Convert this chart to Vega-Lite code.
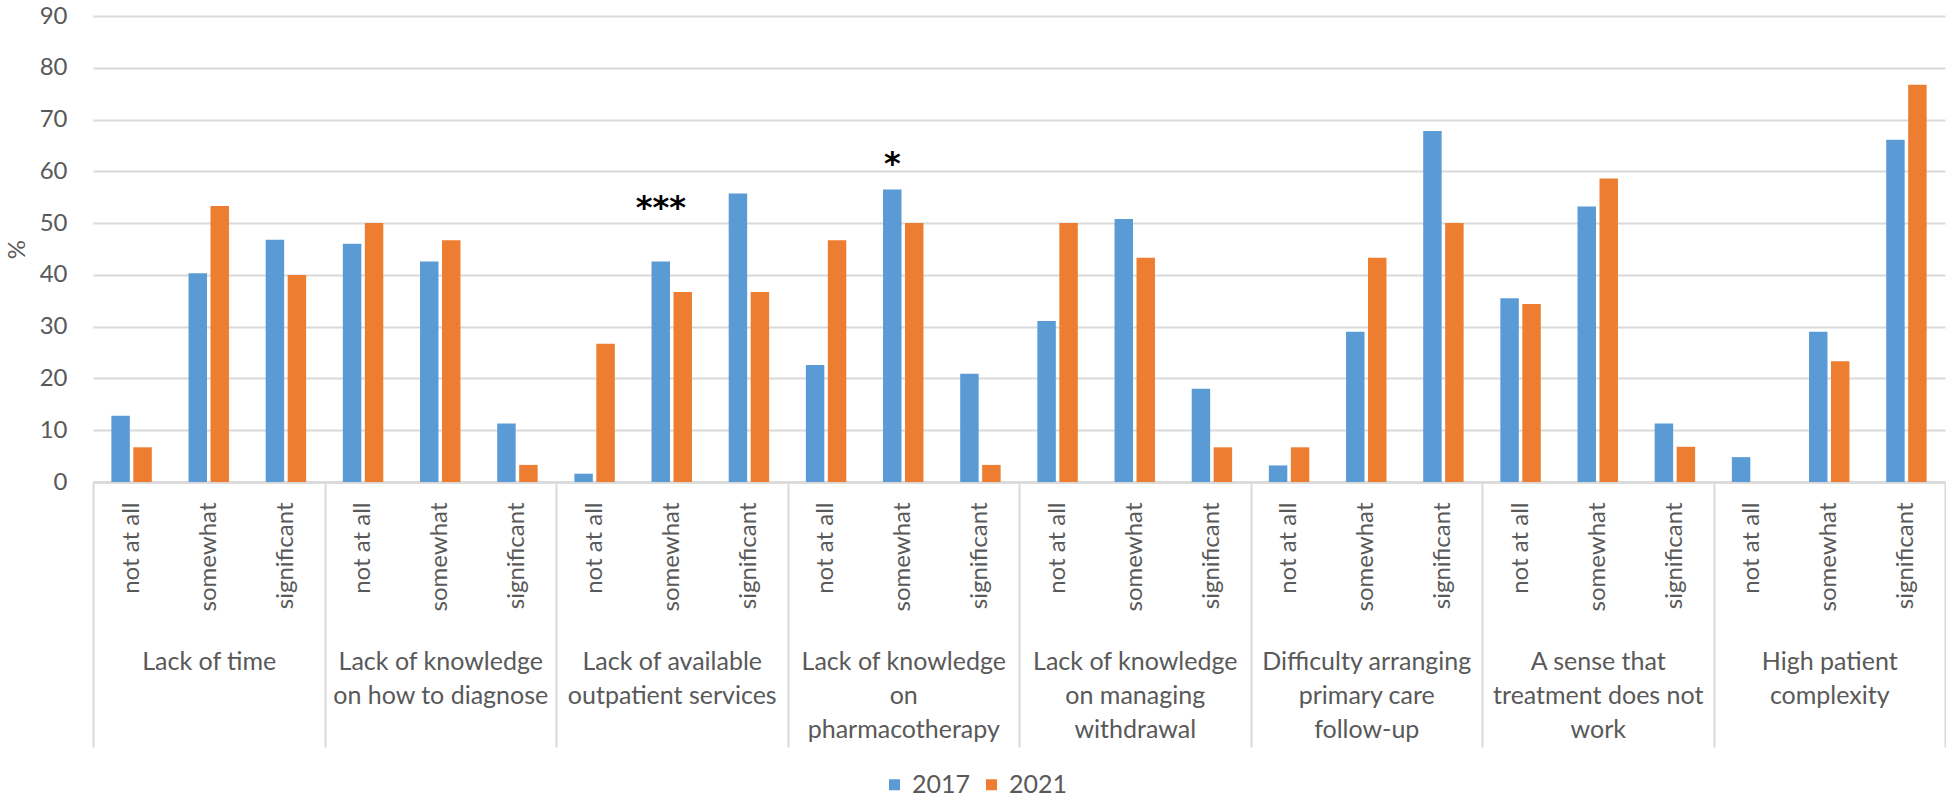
{
  "$schema": "https://vega.github.io/schema/vega-lite/v6.json",
  "width": 1852,
  "height": 466,
  "autosize": {"type": "none"},
  "padding": {"left": 93, "top": 16, "right": 1, "bottom": 316},
  "background": "white",
  "config": {"view": {"stroke": null}, "font": "Lato"},
  "datasets": {
    "bars": [
      {"barrier": "Lack of time", "level": "not at all", "cell": "Lack of time / not at all", "year": "2017", "pct": 12.8},
      {"barrier": "Lack of time", "level": "not at all", "cell": "Lack of time / not at all", "year": "2021", "pct": 6.7},
      {"barrier": "Lack of time", "level": "somewhat", "cell": "Lack of time / somewhat", "year": "2017", "pct": 40.3},
      {"barrier": "Lack of time", "level": "somewhat", "cell": "Lack of time / somewhat", "year": "2021", "pct": 53.3},
      {"barrier": "Lack of time", "level": "significant", "cell": "Lack of time / significant", "year": "2017", "pct": 46.8},
      {"barrier": "Lack of time", "level": "significant", "cell": "Lack of time / significant", "year": "2021", "pct": 40.0},
      {"barrier": "Lack of knowledge on how to diagnose", "level": "not at all", "cell": "Lack of knowledge on how to diagnose / not at all", "year": "2017", "pct": 46.0},
      {"barrier": "Lack of knowledge on how to diagnose", "level": "not at all", "cell": "Lack of knowledge on how to diagnose / not at all", "year": "2021", "pct": 50.0},
      {"barrier": "Lack of knowledge on how to diagnose", "level": "somewhat", "cell": "Lack of knowledge on how to diagnose / somewhat", "year": "2017", "pct": 42.6},
      {"barrier": "Lack of knowledge on how to diagnose", "level": "somewhat", "cell": "Lack of knowledge on how to diagnose / somewhat", "year": "2021", "pct": 46.7},
      {"barrier": "Lack of knowledge on how to diagnose", "level": "significant", "cell": "Lack of knowledge on how to diagnose / significant", "year": "2017", "pct": 11.3},
      {"barrier": "Lack of knowledge on how to diagnose", "level": "significant", "cell": "Lack of knowledge on how to diagnose / significant", "year": "2021", "pct": 3.3},
      {"barrier": "Lack of available outpatient services", "level": "not at all", "cell": "Lack of available outpatient services / not at all", "year": "2017", "pct": 1.6},
      {"barrier": "Lack of available outpatient services", "level": "not at all", "cell": "Lack of available outpatient services / not at all", "year": "2021", "pct": 26.7},
      {"barrier": "Lack of available outpatient services", "level": "somewhat", "cell": "Lack of available outpatient services / somewhat", "year": "2017", "pct": 42.6},
      {"barrier": "Lack of available outpatient services", "level": "somewhat", "cell": "Lack of available outpatient services / somewhat", "year": "2021", "pct": 36.7},
      {"barrier": "Lack of available outpatient services", "level": "significant", "cell": "Lack of available outpatient services / significant", "year": "2017", "pct": 55.7},
      {"barrier": "Lack of available outpatient services", "level": "significant", "cell": "Lack of available outpatient services / significant", "year": "2021", "pct": 36.7},
      {"barrier": "Lack of knowledge on pharmacotherapy", "level": "not at all", "cell": "Lack of knowledge on pharmacotherapy / not at all", "year": "2017", "pct": 22.6},
      {"barrier": "Lack of knowledge on pharmacotherapy", "level": "not at all", "cell": "Lack of knowledge on pharmacotherapy / not at all", "year": "2021", "pct": 46.7},
      {"barrier": "Lack of knowledge on pharmacotherapy", "level": "somewhat", "cell": "Lack of knowledge on pharmacotherapy / somewhat", "year": "2017", "pct": 56.5},
      {"barrier": "Lack of knowledge on pharmacotherapy", "level": "somewhat", "cell": "Lack of knowledge on pharmacotherapy / somewhat", "year": "2021", "pct": 50.0},
      {"barrier": "Lack of knowledge on pharmacotherapy", "level": "significant", "cell": "Lack of knowledge on pharmacotherapy / significant", "year": "2017", "pct": 20.9},
      {"barrier": "Lack of knowledge on pharmacotherapy", "level": "significant", "cell": "Lack of knowledge on pharmacotherapy / significant", "year": "2021", "pct": 3.3},
      {"barrier": "Lack of knowledge on managing withdrawal", "level": "not at all", "cell": "Lack of knowledge on managing withdrawal / not at all", "year": "2017", "pct": 31.1},
      {"barrier": "Lack of knowledge on managing withdrawal", "level": "not at all", "cell": "Lack of knowledge on managing withdrawal / not at all", "year": "2021", "pct": 50.0},
      {"barrier": "Lack of knowledge on managing withdrawal", "level": "somewhat", "cell": "Lack of knowledge on managing withdrawal / somewhat", "year": "2017", "pct": 50.8},
      {"barrier": "Lack of knowledge on managing withdrawal", "level": "somewhat", "cell": "Lack of knowledge on managing withdrawal / somewhat", "year": "2021", "pct": 43.3},
      {"barrier": "Lack of knowledge on managing withdrawal", "level": "significant", "cell": "Lack of knowledge on managing withdrawal / significant", "year": "2017", "pct": 18.0},
      {"barrier": "Lack of knowledge on managing withdrawal", "level": "significant", "cell": "Lack of knowledge on managing withdrawal / significant", "year": "2021", "pct": 6.7},
      {"barrier": "Difficulty arranging primary care follow-up", "level": "not at all", "cell": "Difficulty arranging primary care follow-up / not at all", "year": "2017", "pct": 3.2},
      {"barrier": "Difficulty arranging primary care follow-up", "level": "not at all", "cell": "Difficulty arranging primary care follow-up / not at all", "year": "2021", "pct": 6.7},
      {"barrier": "Difficulty arranging primary care follow-up", "level": "somewhat", "cell": "Difficulty arranging primary care follow-up / somewhat", "year": "2017", "pct": 29.0},
      {"barrier": "Difficulty arranging primary care follow-up", "level": "somewhat", "cell": "Difficulty arranging primary care follow-up / somewhat", "year": "2021", "pct": 43.3},
      {"barrier": "Difficulty arranging primary care follow-up", "level": "significant", "cell": "Difficulty arranging primary care follow-up / significant", "year": "2017", "pct": 67.8},
      {"barrier": "Difficulty arranging primary care follow-up", "level": "significant", "cell": "Difficulty arranging primary care follow-up / significant", "year": "2021", "pct": 50.0},
      {"barrier": "A sense that treatment does not work", "level": "not at all", "cell": "A sense that treatment does not work / not at all", "year": "2017", "pct": 35.5},
      {"barrier": "A sense that treatment does not work", "level": "not at all", "cell": "A sense that treatment does not work / not at all", "year": "2021", "pct": 34.4},
      {"barrier": "A sense that treatment does not work", "level": "somewhat", "cell": "A sense that treatment does not work / somewhat", "year": "2017", "pct": 53.2},
      {"barrier": "A sense that treatment does not work", "level": "somewhat", "cell": "A sense that treatment does not work / somewhat", "year": "2021", "pct": 58.6},
      {"barrier": "A sense that treatment does not work", "level": "significant", "cell": "A sense that treatment does not work / significant", "year": "2017", "pct": 11.3},
      {"barrier": "A sense that treatment does not work", "level": "significant", "cell": "A sense that treatment does not work / significant", "year": "2021", "pct": 6.8},
      {"barrier": "High patient complexity", "level": "not at all", "cell": "High patient complexity / not at all", "year": "2017", "pct": 4.8},
      {"barrier": "High patient complexity", "level": "not at all", "cell": "High patient complexity / not at all", "year": "2021", "pct": 0},
      {"barrier": "High patient complexity", "level": "somewhat", "cell": "High patient complexity / somewhat", "year": "2017", "pct": 29.0},
      {"barrier": "High patient complexity", "level": "somewhat", "cell": "High patient complexity / somewhat", "year": "2021", "pct": 23.3},
      {"barrier": "High patient complexity", "level": "significant", "cell": "High patient complexity / significant", "year": "2017", "pct": 66.1},
      {"barrier": "High patient complexity", "level": "significant", "cell": "High patient complexity / significant", "year": "2021", "pct": 76.7}
    ],
    "notes": [
      {"cell": "Lack of available outpatient services / somewhat", "year": "2017", "pos": 53.0, "sig": "***"},
      {"cell": "Lack of knowledge on pharmacotherapy / somewhat", "year": "2017", "pos": 61.4, "sig": "*"}
    ]
  },
  "layer": [
    {
      "layer": [
        {
          "data": {"name": "bars"},
          "mark": {"type": "bar"},
          "encoding": {
            "x": {
              "field": "cell", "type": "nominal", "sort": null,
              "scale": {"paddingInner": 0.476, "paddingOuter": 0.238},
              "axis": {
                "orient": "bottom", "title": null, "labelAngle": -90, "labelAlign": "right", "labelBaseline": "middle",
                "labelExpr": "split(datum.label, ' / ')[1]", "labelFontSize": 24, "labelColor": "#595959",
                "labelPadding": 20, "labelLimit": 0, "labelOverlap": false, "ticks": false,
                "domain": true, "domainColor": "#D9D9D9", "domainWidth": 2.5, "grid": false
              }
            },
            "xOffset": {"field": "year", "type": "nominal", "scale": {"paddingInner": 0.16}},
            "y": {
              "field": "pct", "type": "quantitative", "scale": {"domain": [0, 90]},
              "axis": {
                "values": [0, 10, 20, 30, 40, 50, 60, 70, 80, 90], "title": "%", "titleFontSize": 24,
                "titleFontWeight": "normal", "titleColor": "#595959", "titlePadding": 10,
                "labelFontSize": 24, "labelColor": "#595959", "labelPadding": 26,
                "domain": false, "ticks": false, "grid": true, "gridColor": "#D9D9D9", "gridWidth": 2
              }
            },
            "color": {
              "field": "year", "type": "nominal", "scale": {"range": ["#5B9BD5", "#ED7D31"]},
              "legend": {
                "title": null, "orient": "none", "legendX": 789, "legendY": 756, "direction": "horizontal",
                "symbolType": "square", "symbolSize": 121, "symbolStrokeWidth": 0, "labelFontSize": 25,
                "labelColor": "#595959", "labelOffset": 5, "columnPadding": 8, "padding": 0
              }
            }
          }
        },
        {
          "data": {"name": "notes"},
          "mark": {"type": "text", "font": "DejaVu Sans", "fontSize": 32, "fontWeight": "bold", "color": "black", "baseline": "middle"},
          "encoding": {
            "x": {"field": "cell", "type": "nominal", "sort": null},
            "xOffset": {"field": "year", "type": "nominal"},
            "y": {"field": "pos", "type": "quantitative"},
            "text": {"field": "sig"}
          }
        }
      ]
    },
    {
      "data": {"name": "bars"},
      "mark": {"type": "rule", "opacity": 0},
      "encoding": {
        "x": {
          "field": "barrier", "type": "nominal", "sort": null,
          "scale": {"paddingInner": 0, "paddingOuter": 0},
          "axis": {
            "orient": "bottom", "title": null, "domain": false, "ticks": true, "tickBand": "extent",
            "tickSize": 265, "tickColor": "#D9D9D9", "tickWidth": 2, "labelAngle": 0, "labelAlign": "center",
            "labelBaseline": "top", "labelPadding": -98, "labelFontSize": 25, "labelColor": "#595959",
            "labelLineHeight": 34, "labelLimit": 0, "labelOverlap": false, "grid": false,
            "labelExpr": "{'Lack of time': ['Lack of time'], 'Lack of knowledge on how to diagnose': ['Lack of knowledge', 'on how to diagnose'], 'Lack of available outpatient services': ['Lack of available', 'outpatient services'], 'Lack of knowledge on pharmacotherapy': ['Lack of knowledge', 'on', 'pharmacotherapy'], 'Lack of knowledge on managing withdrawal': ['Lack of knowledge', 'on managing', 'withdrawal'], 'Difficulty arranging primary care follow-up': ['Difficulty arranging', 'primary care', 'follow-up'], 'A sense that treatment does not work': ['A sense that', 'treatment does not', 'work'], 'High patient complexity': ['High patient', 'complexity']}[datum.label]"
          }
        }
      }
    }
  ],
  "resolve": {"scale": {"x": "independent"}}
}
